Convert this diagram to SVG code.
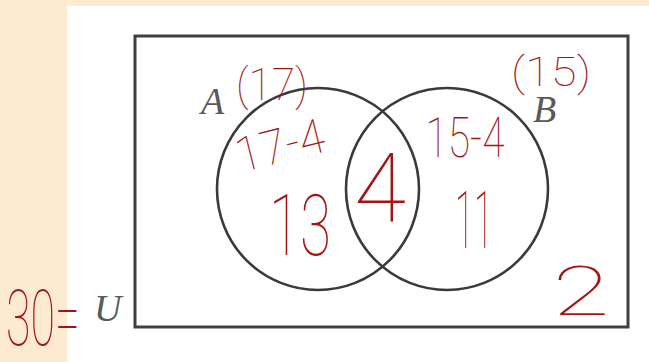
<svg xmlns="http://www.w3.org/2000/svg" width="649" height="362" viewBox="0 0 649 362">
<style>
.set{fill:none;stroke:#3a3a3a;stroke-width:2.6}
.lbl{font-family:"Liberation Serif",serif;font-style:italic;font-size:38px;fill:#5a5a5a}
.hw{font-family:Roboto,"Liberation Sans",sans-serif;font-weight:100;fill:#a31515;text-anchor:middle}
</style>
<rect x="0" y="0" width="649" height="362" fill="#ffffff"/>
<rect x="0" y="0" width="649" height="6" fill="#fdead2"/>
<rect x="0" y="0" width="67" height="362" fill="#fdead2"/>
<g id="universe">
<rect x="135" y="36" width="493" height="291" fill="none" stroke="#404040" stroke-width="3"/>
<text class="lbl" x="94" y="321">U</text>
</g>
<g id="setA">
<circle class="set" cx="318" cy="189" r="101"/>
<text class="lbl" x="201" y="114">A</text>
</g>
<g id="setB">
<circle class="set" cx="447" cy="189" r="101"/>
<text class="lbl" x="533" y="122">B</text>
</g>
<g id="annotations">
<text class="hw" x="272" y="100" font-size="44" textLength="72" lengthAdjust="spacingAndGlyphs">(17)</text>
<text class="hw" x="281" y="162" font-size="48" textLength="90" lengthAdjust="spacingAndGlyphs" transform="rotate(-14 281 150)">17-4</text>
<text class="hw" x="300" y="255" font-size="86" textLength="62" lengthAdjust="spacingAndGlyphs">13</text>
<text class="hw" x="380" y="222" font-size="96" textLength="52" lengthAdjust="spacingAndGlyphs">4</text>
<text class="hw" x="465" y="157" font-size="56" textLength="79" lengthAdjust="spacingAndGlyphs">15-4</text>
<text class="hw" x="474" y="248" font-size="80" textLength="38" lengthAdjust="spacingAndGlyphs">11</text>
<text class="hw" x="551" y="86" font-size="40" textLength="80" lengthAdjust="spacingAndGlyphs">(15)</text>
<text class="hw" x="581" y="315" font-size="68" textLength="57" lengthAdjust="spacingAndGlyphs">2</text>
<text class="hw" x="43" y="345" font-size="78" textLength="74" lengthAdjust="spacingAndGlyphs">30=</text>
</g>
</svg>
